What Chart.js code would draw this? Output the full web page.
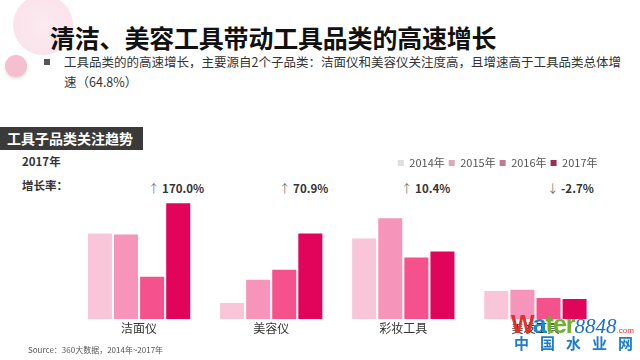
<!DOCTYPE html>
<html><head><meta charset="utf-8">
<script src="https://cdn.jsdelivr.net/npm/chart.js@4/dist/chart.umd.min.js"></script>
<style>
html,body{margin:0;padding:0;width:640px;height:360px;overflow:hidden;background:#fff;font-family:"Noto Sans CJK SC","Noto Sans",sans-serif;}
.abs{position:absolute;white-space:nowrap;}
#wrap{position:absolute;left:0;top:140px;width:640px;height:210px;}
</style></head><body>
<div class="abs" style="left:13px;top:-5px;width:60px;height:60px;border-radius:50%;background:radial-gradient(circle at 50% 50%,#fde9f0 0%,#fbe3ec 70%,rgba(252,230,238,0) 100%);"></div>
<div class="abs" style="left:5px;top:55px;width:22px;height:22px;border-radius:50%;background:#f5bfd0;box-shadow:0 2px 3px rgba(0,0,0,0.12);"></div>
<div class="abs" style="left:50px;top:20px;font-size:25px;font-weight:700;color:#111;line-height:34px;letter-spacing:-0.2px;">清洁、美容工具带动工具品类的高速增长</div>
<div class="abs" style="left:44px;top:59px;width:6px;height:6px;background:#555;"></div>
<div class="abs" style="left:64px;top:52px;font-size:12.5px;color:#333;line-height:20px;">工具品类的的高速增长，主要源自2个子品类：洁面仪和美容仪关注度高，且增速高于工具品类总体增<br>速（64.8%）</div>
<div class="abs" style="left:0;top:127px;width:143px;height:23px;background:#3a3a3a;"></div>
<div class="abs" style="left:7px;top:127px;font-size:14px;font-weight:700;color:#fff;line-height:23px;">工具子品类关注趋势</div>
<div class="abs" style="left:22px;top:153px;font-size:11.5px;font-weight:700;color:#333;line-height:16px;">2017年</div>
<div class="abs" style="left:22px;top:177px;font-size:11.5px;font-weight:700;color:#333;line-height:16px;">增长率：</div>
<div id="growth"></div>
<div id="wrap"><canvas id="c" width="640" height="210"></canvas></div>
<div class="abs" style="left:28px;top:344px;font-size:8px;color:#555;line-height:12px;">Source：360大数据，2014年~2017年</div>
<div class="abs" style="left:511px;top:312px;line-height:24px;z-index:5;">
<span style="font-family:'Liberation Sans',sans-serif;font-weight:700;font-size:25px;color:#e5302a;letter-spacing:-1px;">W</span><span style="font-family:'Liberation Sans',sans-serif;font-weight:700;font-size:25px;color:#1f86d3;letter-spacing:-1px;">a</span><span style="font-family:'Liberation Sans',sans-serif;font-weight:700;font-size:25px;color:#6db42c;letter-spacing:-1px;">ter</span><span style="font-family:'Liberation Serif',serif;font-style:italic;font-size:21px;color:#1c6fc2;">8848</span><span style="font-family:'Liberation Sans',sans-serif;font-size:8px;color:#e5302a;">.com</span></div>
<div class="abs" style="left:514px;top:334px;font-size:15px;font-weight:700;color:#1f7cc8;line-height:18px;letter-spacing:11px;z-index:5;">中国水业网</div>
<script>
const categories = ['洁面仪', '美容仪', '彩妆工具', '美发工具'];
const years = ['2014年', '2015年', '2016年', '2017年'];
const v2014 = [85, 16, 80, 28];
const v2015 = [84, 39, 100, 29];
const v2016 = [42, 49, 61, 21];
const v2017 = [115, 85, 67, 20];
const growth = ['170.0%', '70.9%', '10.4%', '-2.7%'];
const growthUp = [true, true, true, false];
const barColors = ['#f8c5d9', '#f695b9', '#f5518c', '#e1045a'];
const legendColors = ['#e0dde0', '#d9aab8', '#c07890', '#9a3050'];

const growthX = [148, 279, 401, 547];
const g = document.getElementById('growth');
growth.forEach((t, i) => {
  const d = document.createElement('div');
  d.className = 'abs';
  d.style.cssText = 'left:' + growthX[i] + 'px;top:180px;font-size:11.5px;line-height:16px;color:#333;font-weight:700;';
  d.innerHTML = '<span style="font-weight:300;color:#555;">' + (growthUp[i] ? '↑' : '↓') + '</span> ' + t;
  g.appendChild(d);
});

const series = [v2014, v2015, v2016, v2017];
new Chart(document.getElementById('c'), {
  type: 'bar',
  data: {
    labels: categories,
    datasets: series.map((s, i) => ({
      label: years[i],
      data: s,
      backgroundColor: barColors[i],
      borderWidth: 0,
      categoryPercentage: 0.79,
      barPercentage: 0.92
    }))
  },
  options: {
    responsive: false,
    animation: false,
    layout: { padding: { left: 73, right: 38.5, top: 13.5, bottom: 12.5 } },
    plugins: {
      tooltip: { enabled: false },
      legend: {
        position: 'top',
        align: 'end',
        labels: {
          boxWidth: 6,
          boxHeight: 6,
          padding: 4,
          color: '#555',
          font: { size: 11, family: '"Noto Sans CJK SC", sans-serif' },
          generateLabels: (chart) => chart.data.datasets.map((ds, i) => ({
            text: ds.label,
            fillStyle: legendColors[i],
            strokeStyle: legendColors[i],
            lineWidth: 0,
            fontColor: '#555',
            hidden: false,
            datasetIndex: i
          }))
        }
      }
    },
    scales: {
      x: {
        grid: { display: false, drawTicks: false },
        border: { display: false },
        ticks: { color: '#333', padding: 2, font: { size: 12, family: '"Noto Sans CJK SC", sans-serif' } }
      },
      y: { display: false, min: 0, max: 139.5 }
    }
  }
});
</script>
</body></html>
